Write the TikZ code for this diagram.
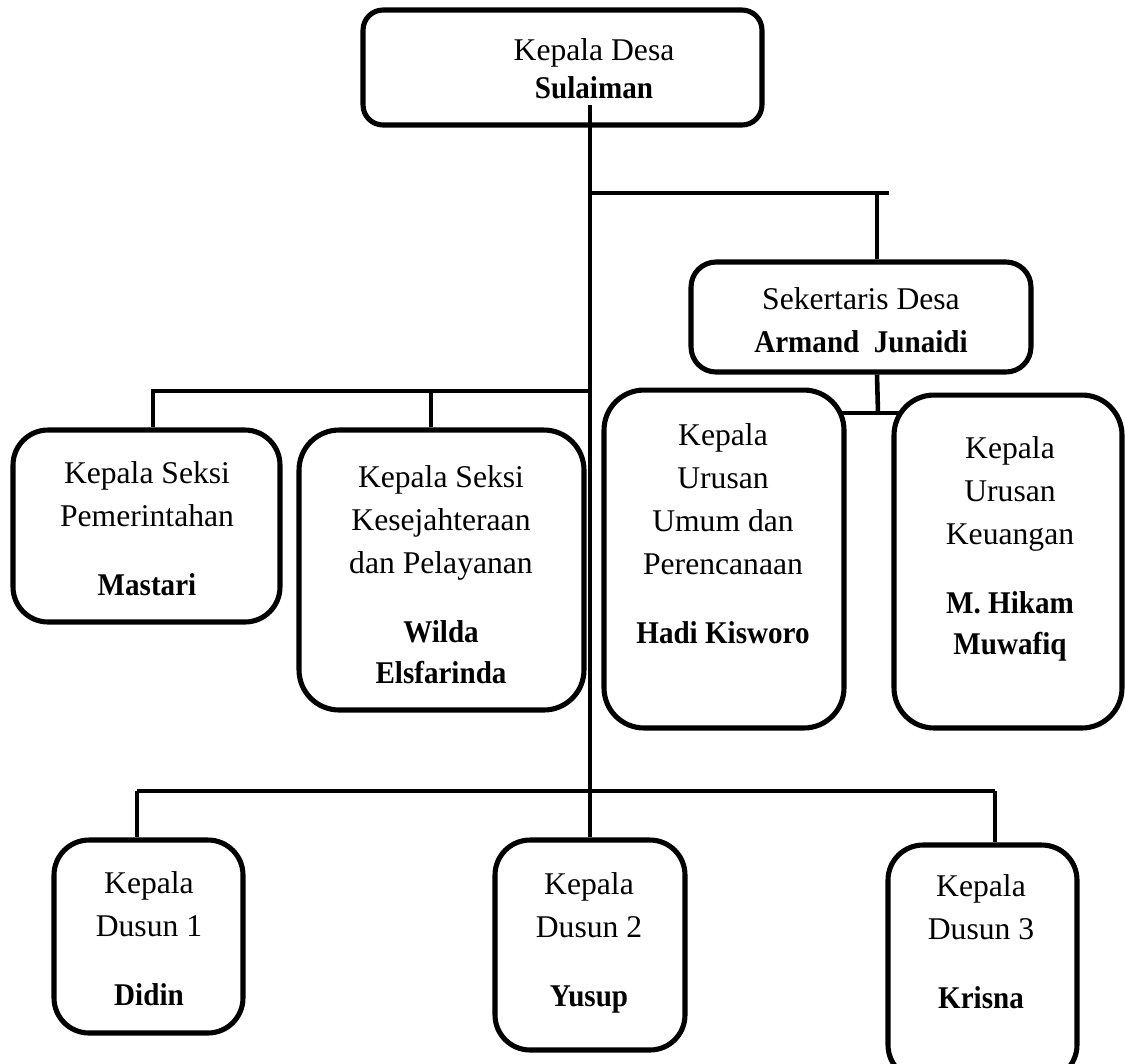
\documentclass[tikz,border=0pt]{standalone}
\usepackage{fontspec}
\setmainfont{Liberation Serif}
\newfontfamily\namefont[FakeStretch=0.92]{Liberation Serif}
\usepackage{tikz}
\usetikzlibrary{%
backgrounds,%
calc}

\newcommand{\nm}[1]{{\namefont\bfseries\fontsize{18}{24.4}\selectfont #1}}

\begin{document}
\begin{tikzpicture}[x=0.02cm,y=-0.02cm,
    box/.style={draw,fill=white,line width=2.9pt,rounded corners=#1,inner sep=0pt},
    box/.default=0.7cm,
    txt/.style={align=center,inner sep=0pt,font=\fontsize{18}{24.4}\selectfont},
    link/.style={line width=2.6pt}]
\useasboundingbox (0,0) rectangle (1125,1063);

\node[box=0.4cm,minimum width=7.98cm,minimum height=2.3cm] (kades) at (562.5,67.5) {};
\node[txt] (kades-t) at (594,69) {Kepala Desa\\[-2.8pt]\nm{Sulaiman}};

\node[box=0.5cm,minimum width=6.8cm,minimum height=2.2cm] (sek) at (861,317) {};
\node[txt] (sek-t) at (861,320) {Sekertaris Desa\\\nm{Armand\ \ Junaidi}};

\node[box=0.7cm,minimum width=5.34cm,minimum height=3.84cm] (kspem) at (146.5,526) {};
\node[txt] (kspem-t) at (147,529) {Kepala Seksi\\Pemerintahan\\[15pt]\nm{Mastari}};

\node[box=0.8cm,minimum width=5.7cm,minimum height=5.6cm] (kskes) at (441.5,570) {};
\node[txt] (kskes-t) at (441,575) {Kepala Seksi\\Kesejahteraan\\dan Pelayanan\\[15pt]\nm{Wilda}\\[-1pt]\nm{Elsfarinda}};

\node[box=0.8cm,minimum width=4.8cm,minimum height=6.76cm] (kaurum) at (724,559) {};
\node[txt] (kaurum-t) at (723,533.5) {Kepala\\Urusan\\Umum dan\\Perencanaan\\[15pt]\nm{Hadi Kisworo}};

\node[box=0.8cm,minimum width=4.56cm,minimum height=6.66cm] (kaurkeu) at (1008,561.5) {};
\node[txt] (kaurkeu-t) at (1010,549) {Kepala\\Urusan\\Keuangan\\[15pt]\nm{M. Hikam}\\[-1pt]\nm{Muwafiq}};

\node[box,minimum width=3.78cm,minimum height=3.86cm] (dusun1) at (148.5,936.5) {};
\node[txt] (dusun1-t) at (149,939) {Kepala\\Dusun 1\\[15pt]\nm{Didin}};

\node[box,minimum width=3.8cm,minimum height=4.2cm] (dusun2) at (590,945) {};
\node[txt] (dusun2-t) at (589,943) {Kepala\\Dusun 2\\[15pt]\nm{Yusup}};

\node[box,minimum width=3.78cm,minimum height=4.7cm] (dusun3) at (982.5,962.5) {};
\node[txt] (dusun3-t) at (981,942) {Kepala\\Dusun 3\\[15pt]\nm{Krisna}};

\coordinate (trunk) at (590,105);
\coordinate (j1) at (590,193);
\coordinate (sekjoin) at (877,193);
\coordinate (sekend) at (889,193);
\coordinate (kaurjoin) at (878,413);
\coordinate (j2) at (590,391);
\coordinate (kpjoin) at (153,391);
\coordinate (kkjoin) at (431,391);
\coordinate (d1join) at (137,791);
\coordinate (d3join) at (995,791);

\draw[link] (trunk) -- (dusun2.north);
\draw[link] (j1) -- (sekend);
\draw[link] (sekjoin) -- (sekjoin |- sek.north);
\draw[link] (sekjoin |- sek.south) -- (kaurjoin);
\begin{scope}[on background layer]
    \draw[link] (kaurum |- kaurjoin) -- (kaurkeu |- kaurjoin);
\end{scope}
\draw[link] (j2) -- (kpjoin) -- (kpjoin |- kspem.north);
\draw[link] (kkjoin) -- (kkjoin |- kskes.north);
\draw[link] (d1join) -- (d3join);
\draw[link] (d1join) -- (d1join |- dusun1.north);
\draw[link] (d3join) -- (d3join |- dusun3.north);
\end{tikzpicture}
\end{document}
